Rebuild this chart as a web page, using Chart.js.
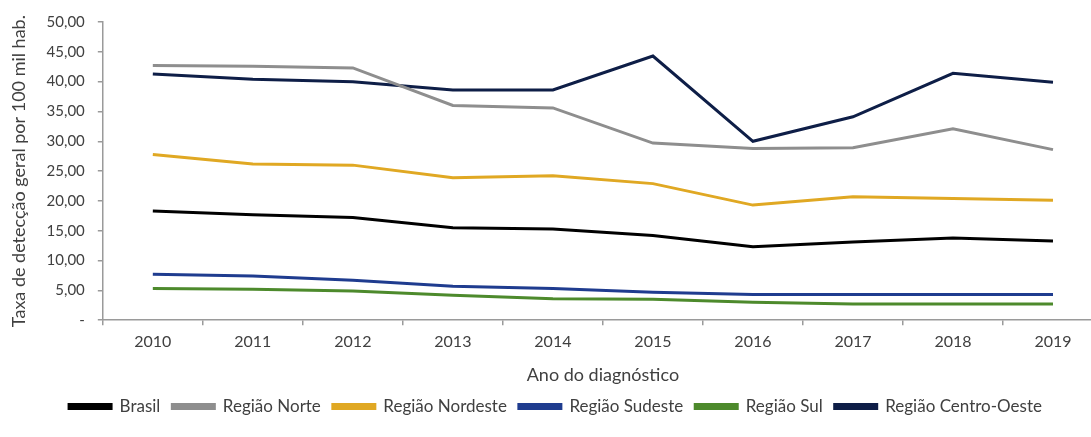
<!DOCTYPE html>
<html>
<head>
<meta charset="utf-8">
<script src="https://cdn.jsdelivr.net/npm/chart.js@4"></script>
<style>
  html, body { margin: 0; padding: 0; background: #fff; overflow: hidden; }
  #box { width: 1112px; height: 437px; }
</style>
</head>
<body>
<div id="box"><canvas id="grafico"></canvas></div>
<script>
// anos do diagnostico (eixo x)
const anos = ['2010', '2011', '2012', '2013', '2014', '2015', '2016', '2017', '2018', '2019'];

// taxa de deteccao geral por 100 mil hab.
const brasil      = [18.3, 17.7, 17.2, 15.5, 15.3, 14.2, 12.3, 13.1, 13.8, 13.3];
const norte       = [42.7, 42.6, 42.3, 36.0, 35.6, 29.7, 28.8, 28.9, 32.1, 28.6];
const nordeste    = [27.8, 26.2, 26.0, 23.9, 24.2, 22.9, 19.3, 20.7, 20.4, 20.1];
const sudeste     = [7.7, 7.4, 6.7, 5.7, 5.3, 4.7, 4.3, 4.3, 4.3, 4.3];
const sul         = [5.3, 5.2, 4.9, 4.2, 3.6, 3.5, 3.0, 2.7, 2.7, 2.7];
const centroOeste = [41.3, 40.4, 40.0, 38.6, 38.6, 44.3, 30.0, 34.1, 41.4, 39.9];

const nomes = ['Brasil', 'Região Norte', 'Região Nordeste', 'Região Sudeste', 'Região Sul', 'Região Centro-Oeste'];
const cores = ['#000000', '#8e8e8e', '#e0a823', '#1f3c8f', '#4d8a2c', '#0e1e47'];
const series = [brasil, norte, nordeste, sudeste, sul, centroOeste];

const fonte = "Lato, 'Open Sans', sans-serif";

// formato com virgula decimal e '-' no zero
function formataTaxa(v) {
  if (v === 0) return '-';
  return v.toFixed(2).replace('.', ',');
}

let datasets = series.map(function (dados, i) {
  return {
    label: nomes[i],
    data: dados,
    borderColor: cores[i],
    backgroundColor: cores[i],
    borderWidth: 3,
    pointRadius: 0,
    tension: 0
  };
});

let config = {
  type: 'line',
  data: { labels: anos, datasets: datasets },
  options: {
    responsive: true,
    maintainAspectRatio: false,
    animation: false,
    layout: { padding: { top: 12, right: 9, left: 8, bottom: 12 } },
    plugins: {
      tooltip: { enabled: false },
      legend: {
        position: 'bottom',
        labels: {
          boxWidth: 42,
          boxHeight: 4,
          padding: 12,
          color: '#404040',
          font: { family: fonte, size: 17 }
        }
      }
    },
    scales: {
      x: {
        offset: true,
        grid: { offset: true, drawOnChartArea: false, color: '#9a9a9a', tickLength: 5, lineWidth: 1.5 },
        border: { color: '#9a9a9a', width: 1.5 },
        ticks: { color: '#404040', font: { family: fonte, size: 16 }, padding: 7 },
        title: { display: true, text: 'Ano do diagnóstico', color: '#404040', font: { family: fonte, size: 18 }, padding: { top: 6, bottom: 0 } }
      },
      y: {
        min: 0,
        max: 50,
        grid: { drawOnChartArea: false, color: '#9a9a9a', tickLength: 5, lineWidth: 1.5 },
        border: { color: '#9a9a9a', width: 1.5 },
        ticks: { stepSize: 5, color: '#404040', font: { family: fonte, size: 15 }, padding: 13, callback: formataTaxa },
        title: { display: true, text: 'Taxa de detecção geral por 100 mil hab.', color: '#404040', font: { family: fonte, size: 18 }, padding: { top: 0, bottom: 4 } }
      }
    }
  }
};

window.onload = function () {
  let ctx = document.getElementById('grafico').getContext('2d');
  window.graficoTaxa = new Chart(ctx, config);
};
</script>
</body>
</html>
